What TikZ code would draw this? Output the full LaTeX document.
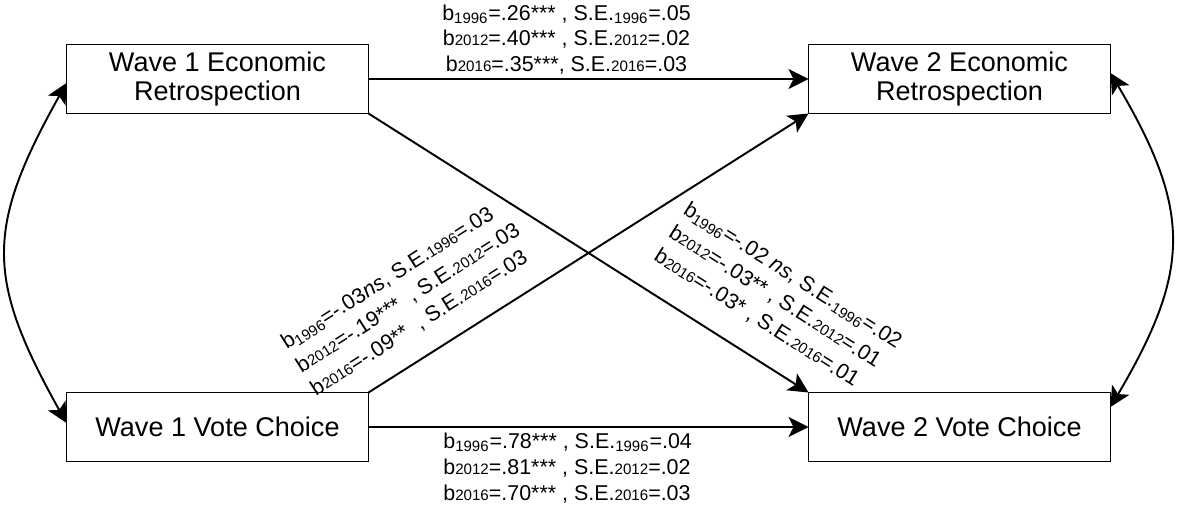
\documentclass[tikz,border=0pt]{standalone}
\usepackage{fontspec}
\setmainfont{Liberation Sans}
\usetikzlibrary{arrows.meta}
\usetikzlibrary{positioning}
\newcommand{\yrlow}[1]{\textsubscript{#1}}
\newcommand{\yrflat}[1]{{\fontsize{8.6}{10}\selectfont #1}}

\begin{document}
\begin{tikzpicture}[node distance=8.8cm,
  vtip/.tip={Stealth[length=0.4cm,width=0.4cm,inset=0.1cm]},
  varbox/.style={draw,line width=1.1pt,minimum width=6.04cm,minimum height=1.38cm,inner sep=2pt,outer sep=0pt,align=center,font=\fontsize{15.4}{16.8}\selectfont},
  coef/.style={font=\fontsize{12.2}{14.6}\selectfont,inner sep=0pt},
  slopecoef/.style={coef,font=\fontsize{12.2}{15.6}\selectfont,align=left},
  effect/.style={line width=1.1pt,-vtip},
  corr/.style={line width=1.1pt,vtip-vtip}]
  \useasboundingbox (0,0) rectangle (23.62,10.24);
  \node[varbox] (w1econ) at (4.35,8.66) {Wave 1 Economic\\Retrospection};
  \node[varbox,right=of w1econ] (w2econ) {Wave 2 Economic\\Retrospection};
  \node[varbox,below=5.58cm of w1econ] (w1vote) {Wave 1 Vote Choice};
  \node[varbox,right=of w1vote] (w2vote) {Wave 2 Vote Choice};
  % stability paths
  \draw[effect](w1econ.east)--(w2econ.west);
  \draw[effect](w1vote.east)--(w2vote.west);
  % cross-lagged paths
  \draw[effect](w1econ.south east)--(w2vote.north west);
  \draw[effect](w1vote.north east)--(w2econ.south west);
  % within-wave correlations
  \draw[corr]([yshift=-0.08cm]w1econ.west) .. controls +(-1.62,-2.9) and +(-1.62,2.9) .. ([yshift=0.08cm]w1vote.west);
  \draw[corr]([yshift=0.12cm]w2econ.east) .. controls +(1.62,-2.75) and +(1.62,2.75) .. ([yshift=0.4cm]w2vote.east);
  % coefficients
  \node[coef,align=center] (econlab) at (11.33,9.45) {b\yrlow{1996}=.26*** , S.E.\yrlow{1996}=.05\\b\yrflat{2012}=.40*** , S.E.\yrflat{2012}=.02\\b\yrflat{2016}=.35***, S.E.\yrflat{2016}=.03};
  \node[coef,align=left,anchor=west] (votelab) at (8.86,0.88) {b\yrlow{1996}=.78*** , S.E.\yrlow{1996}=.04\\b\yrflat{2012}=.81*** , S.E.\yrflat{2012}=.02\\b\yrflat{2016}=.70*** , S.E.\yrflat{2016}=.03};
  \node[slopecoef,rotate=32.4] (votetoecon) at (8.16,4.28) {b\yrlow{1996}=-.03\textit{ns}, S.E.\yrflat{1996}=.03\\b\yrflat{2012}=-.19***\ \ , S.E.\yrflat{2012}=.03\\b\yrflat{2016}=-.09**\ \ , S.E.\yrflat{2016}=.03};
  \node[slopecoef,rotate=-32.4] (econtovote) at (15.56,4.26) {b\yrlow{1996}=-.02 \textit{ns}, S.E.\yrlow{1996}=.02\\b\yrflat{2012}=-.03** , S.E.\yrflat{2012}=.01\\b\yrflat{2016}=-.03* , S.E.\yrflat{2016}=.01};
\end{tikzpicture}
\end{document}
